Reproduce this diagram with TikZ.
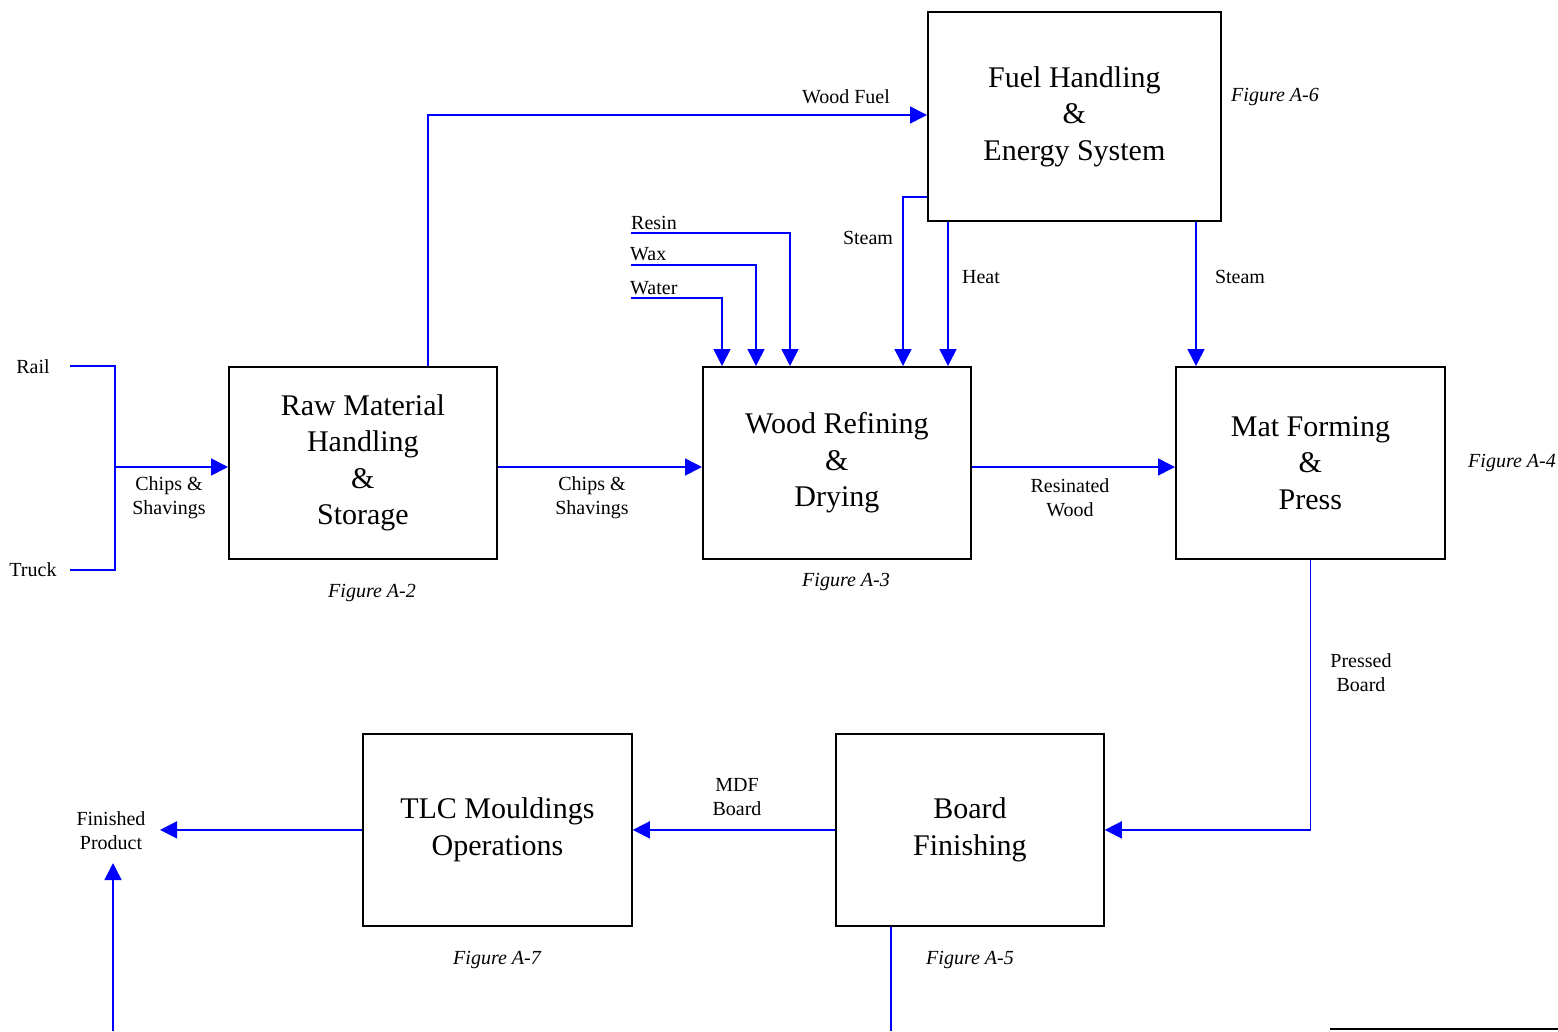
\documentclass[tikz,border=0pt]{standalone}
\usepackage{fontspec}
\setmainfont{Liberation Serif}
\usetikzlibrary{arrows.meta,calc}
\begin{document}
\begin{tikzpicture}[x=1pt,y=-1pt,
  box/.style={draw=black,line width=1.8pt,anchor=north west,inner sep=0pt,align=center,font=\fontsize{30}{36.5}\selectfont},
  flow/.style={draw=blue,line width=1.6pt},
  arr/.style={flow,-{Triangle[length=17pt,width=17pt]}},
  lbl/.style={inner sep=0pt,align=center,font=\fontsize{20}{24}\selectfont},
  fig/.style={inner sep=0pt,font=\fontsize{20}{24}\selectfont\itshape}]
\useasboundingbox (0,0) rectangle (1558,1031);
% boxes
\node[box,minimum width=293pt,minimum height=209pt] (fuel) at (927,11) {Fuel Handling\\\&\\Energy System};
\node[box,minimum width=268pt,minimum height=192pt] (raw) at (228,366) {Raw Material\\Handling\\\&\\Storage};
\node[box,minimum width=268pt,minimum height=192pt] (wood) at (702,366) {Wood Refining\\\&\\Drying};
\node[box,minimum width=269pt,minimum height=192pt] (mat) at (1175,366) {Mat Forming\\\&\\Press};
\node[box,minimum width=268pt,minimum height=192pt] (board) at (835,733) {Board\\Finishing};
\node[box,minimum width=269pt,minimum height=192pt] (tlc) at (362,733) {TLC Mouldings\\Operations};
% figure labels
\node[fig] (f6) at (1275,97) {Figure A-6};
\node[fig] (f2) at (372,593) {Figure A-2};
\node[fig] (f3) at (846,582) {Figure A-3};
\node[fig] (f4) at (1512,463) {Figure A-4};
\node[fig] (f7) at (497,960) {Figure A-7};
\node[fig] (f5) at (970,960) {Figure A-5};
% text labels
\node[lbl] (rail) at (33,367) {Rail};
\node[lbl] (truck) at (33,570) {Truck};
\node[lbl] (cs1) at (169,498) {Chips \&\\Shavings};
\node[lbl] (cs2) at (592,498) {Chips \&\\Shavings};
\node[lbl] (woodfuel) at (846,97) {Wood Fuel};
\node[lbl,anchor=west] (resin) at (631,223) {Resin};
\node[lbl,anchor=west] (wax) at (630,254) {Wax};
\node[lbl,anchor=west] (water) at (630,288) {Water};
\node[lbl] (steam1) at (868,238) {Steam};
\node[lbl] (heat) at (981,277) {Heat};
\node[lbl] (steam2) at (1240,277) {Steam};
\node[lbl] (resw) at (1070,498) {Resinated\\Wood};
\node[lbl] (pressed) at (1361,673) {Pressed\\Board};
\node[lbl] (mdf) at (737,797) {MDF\\Board};
\node[lbl] (fin) at (111,831) {Finished\\Product};
% coordinates
\coordinate (railend) at (70,366);
\coordinate (truckend) at (70,570);
\coordinate (bus) at (115,467);
\coordinate (resinstart) at (631,233);
\coordinate (waxstart) at (631,265);
\coordinate (waterstart) at (631,298);
\coordinate (finarr) at (160,829);
\coordinate (bottomA) at (113,1031);
\coordinate (bottomB) at (891,1031);
\coordinate (rl1) at (1330,1029);
\coordinate (rl2) at (1558,1029);
% connectors
\draw[flow] (railend) -- (115,366) -- (115,570) -- (truckend);
\draw[arr] (bus) -- (bus -| raw.west);
\draw[arr] (raw.east |- 0,467) -- (wood.west |- 0,467);
\draw[arr] (wood.east |- 0,467) -- (mat.west |- 0,467);
\draw[arr] (raw.north -| 428,0) -- (428,115) -- (fuel.west |- 0,115);
\draw[arr] (resinstart) -- (790,233) -- (wood.north -| 790,0);
\draw[arr] (waxstart) -- (756,265) -- (wood.north -| 756,0);
\draw[arr] (waterstart) -- (722,298) -- (wood.north -| 722,0);
\draw[arr] (fuel.west |- 0,197) -- (903,197) -- (wood.north -| 903,0);
\draw[arr] (fuel.south -| 948,0) -- (wood.north -| 948,0);
\draw[arr] (fuel.south -| 1196,0) -- (mat.north -| 1196,0);
\draw[arr] (mat.south) -- (mat.south |- board.east) -- (board.east);
\draw[arr] (board.west) -- (tlc.east);
\draw[arr] (tlc.west) -- (tlc.west -| finarr);
\draw[arr] (bottomA) -- (113,863);
\draw[flow] (board.south -| bottomB) -- (bottomB);
\draw[black,line width=2pt] (rl1) -- (rl2);
\end{tikzpicture}
\end{document}
